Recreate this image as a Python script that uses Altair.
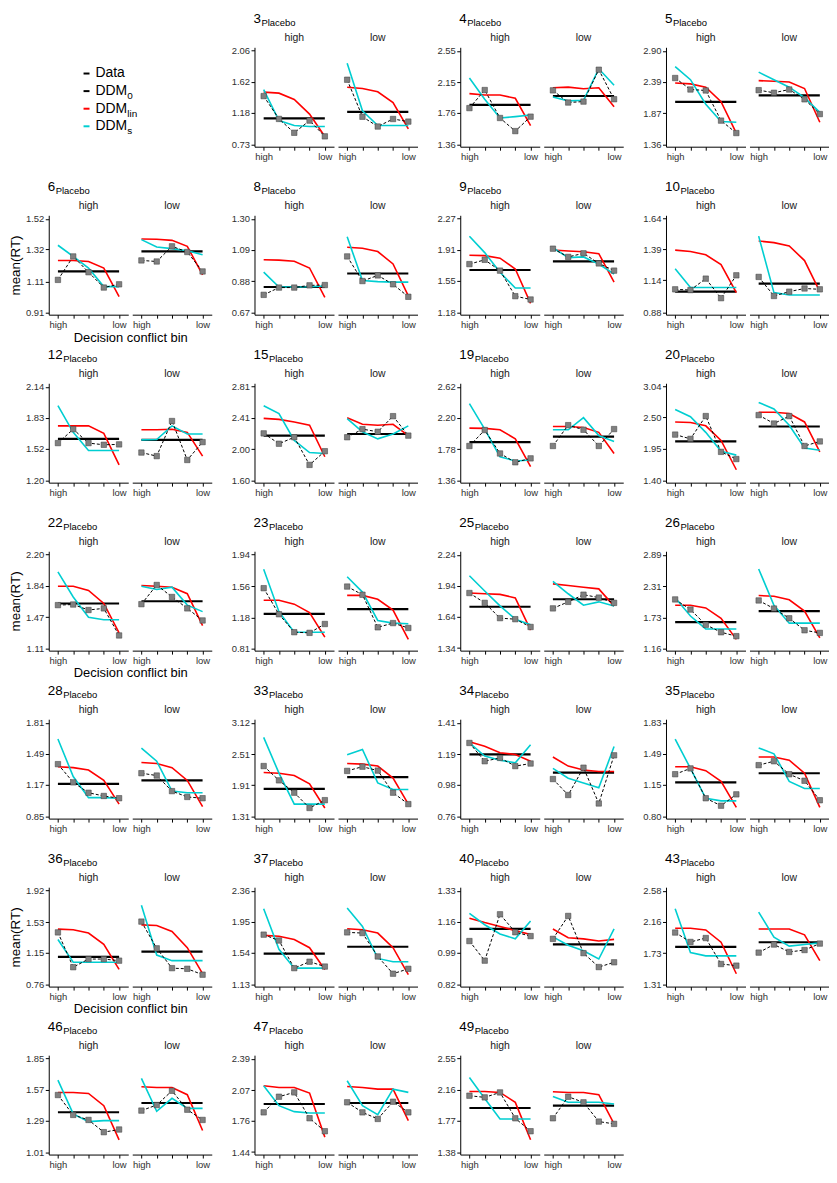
import altair as alt
import pandas as pd

# ---------------- data ----------------
SUBJECTS = [3, 4, 5, 6, 8, 9, 10, 12, 15, 19, 20, 22, 23, 25, 26, 28, 33, 34, 35, 36, 37, 40, 43, 46, 47, 49]
CONDITIONS = ["high", "low"]
BINS = [1, 2, 3, 4, 5]
BIN_LABELS = ["high", "low"]

Y_TICKS = [
    [0.73, 1.18, 1.62, 2.06], [1.36, 1.76, 2.15, 2.55], [1.36, 1.87, 2.39, 2.90],
    [0.91, 1.11, 1.32, 1.52], [0.67, 0.88, 1.09, 1.30], [1.18, 1.55, 1.91, 2.27], [0.88, 1.14, 1.39, 1.64],
    [1.20, 1.52, 1.83, 2.14], [1.60, 2.00, 2.41, 2.81], [1.36, 1.78, 2.20, 2.62], [1.40, 1.95, 2.50, 3.04],
    [1.11, 1.47, 1.84, 2.20], [0.81, 1.18, 1.56, 1.94], [1.34, 1.64, 1.94, 2.24], [1.16, 1.73, 2.31, 2.89],
    [0.85, 1.17, 1.49, 1.81], [1.31, 1.91, 2.51, 3.12], [0.76, 0.98, 1.19, 1.41], [0.80, 1.15, 1.49, 1.83],
    [0.76, 1.15, 1.53, 1.92], [1.13, 1.54, 1.95, 2.36], [0.82, 0.99, 1.16, 1.33], [1.31, 1.73, 2.16, 2.58],
    [1.01, 1.29, 1.57, 1.85], [1.44, 1.76, 2.07, 2.39], [1.38, 1.77, 2.16, 2.55],
]

DATA_HIGH = [
    [1.415, 1.09, 0.893, 1.066, 0.842], [1.82, 2.05, 1.694, 1.527, 1.711], [2.451, 2.262, 2.246, 1.749, 1.544],
    [1.121, 1.274, 1.171, 1.071, 1.092], [0.787, 0.836, 0.836, 0.851, 0.853], [1.741, 1.791, 1.665, 1.367, 1.328],
    [1.066, 1.06, 1.153, 0.994, 1.18], [1.573, 1.713, 1.573, 1.556, 1.56], [2.206, 2.072, 2.156, 1.798, 1.975],
    [1.821, 2.036, 1.72, 1.601, 1.654], [2.20, 2.125, 2.525, 1.897, 1.771], [1.612, 1.619, 1.555, 1.574, 1.258],
    [1.535, 1.22, 1.003, 0.995, 1.102], [1.871, 1.776, 1.629, 1.619, 1.544], [2.062, 1.875, 1.593, 1.454, 1.382],
    [1.384, 1.197, 1.09, 1.057, 1.034], [2.28, 2.003, 1.764, 1.468, 1.619], [1.269, 1.142, 1.165, 1.108, 1.126],
    [1.262, 1.326, 0.997, 0.915, 1.04], [1.402, 0.97, 1.071, 1.071, 1.051], [1.781, 1.704, 1.34, 1.425, 1.361],
    [1.055, 0.948, 1.201, 1.103, 1.082], [2.011, 1.883, 1.936, 1.583, 1.561], [1.523, 1.344, 1.299, 1.189, 1.213],
    [1.844, 2.003, 2.047, 1.784, 1.652], [2.086, 2.065, 2.127, 1.803, 1.641],
]
DATA_LOW = [
    [1.648, 1.121, 0.982, 1.089, 1.052], [2.046, 1.891, 1.903, 2.309, 1.933], [2.251, 2.208, 2.262, 2.10, 1.857],
    [1.248, 1.241, 1.34, 1.303, 1.176], [1.046, 0.88, 0.918, 0.858, 0.774], [1.921, 1.825, 1.867, 1.749, 1.665],
    [1.167, 1.012, 1.047, 1.073, 1.066], [1.478, 1.442, 1.795, 1.403, 1.583], [2.156, 2.261, 2.227, 2.429, 2.177],
    [1.821, 2.102, 2.040, 1.821, 2.049], [2.542, 2.394, 2.525, 2.00, 2.08], [1.623, 1.847, 1.707, 1.574, 1.433],
    [1.555, 1.456, 1.062, 1.113, 1.054], [1.723, 1.786, 1.855, 1.827, 1.776], [2.043, 1.893, 1.713, 1.491, 1.442],
    [1.291, 1.267, 1.107, 1.047, 1.034], [2.186, 2.268, 2.192, 1.764, 1.543], [1.018, 0.907, 1.097, 0.848, 1.183],
    [1.362, 1.405, 1.262, 1.19, 0.975], [1.536, 1.204, 0.958, 0.95, 0.877], [1.811, 1.802, 1.494, 1.267, 1.331],
    [1.067, 1.192, 0.989, 0.913, 0.939], [1.738, 1.848, 1.747, 1.773, 1.861], [1.383, 1.433, 1.561, 1.391, 1.299],
    [1.946, 1.844, 1.777, 1.952, 1.844], [1.803, 2.073, 2.003, 1.762, 1.733],
]

DDM0_HIGH = [1.098, 1.862, 2.057, 1.176, 0.84, 1.672, 1.047, 1.615, 2.177, 1.874, 2.08, 1.631, 1.224,
             1.739, 1.641, 1.181, 1.839, 1.189, 1.172, 1.099, 1.532, 1.121, 1.817, 1.368, 1.929, 1.932]
DDM0_LOW = [1.191, 1.974, 2.165, 1.307, 0.931, 1.772, 1.113, 1.605, 2.198, 1.948, 2.342, 1.657, 1.283,
            1.811, 1.845, 1.217, 2.066, 1.063, 1.273, 1.164, 1.622, 1.037, 1.879, 1.451, 1.939, 1.961]

LIN_HIGH = [
    [1.471, 1.457, 1.368, 1.159, 0.84], [2.004, 1.987, 1.987, 1.945, 1.598], [2.37, 2.354, 2.30, 2.062, 1.544],
    [1.248, 1.248, 1.241, 1.198, 1.011], [1.024, 1.021, 1.013, 0.968, 0.77], [1.844, 1.84, 1.81, 1.684, 1.283],
    [1.385, 1.374, 1.347, 1.268, 1.039], [1.746, 1.746, 1.746, 1.671, 1.354], [2.40, 2.387, 2.354, 2.311, 1.903],
    [2.062, 2.058, 2.040, 1.918, 1.544], [2.422, 2.411, 2.354, 2.097, 1.583], [1.832, 1.832, 1.783, 1.631, 1.289],
    [1.389, 1.389, 1.342, 1.239, 0.944], [1.871, 1.864, 1.858, 1.824, 1.513], [1.953, 1.953, 1.905, 1.713, 1.322],
    [1.358, 1.348, 1.324, 1.217, 0.974], [2.154, 2.142, 2.098, 1.934, 1.468], [1.278, 1.246, 1.201, 1.189, 1.142],
    [1.344, 1.344, 1.301, 1.183, 0.897], [1.443, 1.435, 1.394, 1.253, 0.942], [1.772, 1.759, 1.716, 1.609, 1.323],
    [1.18, 1.156, 1.135, 1.112, 1.091], [2.069, 2.069, 2.046, 1.879, 1.451], [1.546, 1.546, 1.537, 1.427, 1.12],
    [2.114, 2.097, 2.097, 2.04, 1.592], [2.139, 2.139, 2.127, 2.003, 1.534],
]
LIN_LOW = [
    [1.541, 1.522, 1.476, 1.322, 0.949], [2.079, 2.087, 2.066, 2.079, 1.837], [2.408, 2.397, 2.386, 2.278, 1.722],
    [1.388, 1.386, 1.379, 1.34, 1.154], [1.108, 1.101, 1.079, 0.995, 0.78], [1.905, 1.894, 1.886, 1.863, 1.531],
    [1.459, 1.446, 1.419, 1.30, 1.047], [1.707, 1.707, 1.713, 1.681, 1.442], [2.408, 2.324, 2.311, 2.324, 2.177],
    [2.084, 2.084, 2.071, 2.005, 1.72], [2.593, 2.593, 2.571, 2.422, 1.897], [1.84, 1.832, 1.821, 1.745, 1.372],
    [1.448, 1.448, 1.401, 1.271, 0.916], [1.959, 1.943, 1.927, 1.911, 1.745], [2.134, 2.122, 2.055, 1.845, 1.352],
    [1.401, 1.391, 1.348, 1.217, 0.947], [2.331, 2.318, 2.28, 2.047, 1.543], [1.171, 1.108, 1.081, 1.07, 1.07],
    [1.452, 1.452, 1.416, 1.273, 0.897], [1.495, 1.487, 1.414, 1.212, 0.889], [1.858, 1.845, 1.802, 1.609, 1.254],
    [1.121, 1.073, 1.067, 1.055, 1.064], [2.06, 2.06, 2.06, 1.98, 1.628], [1.597, 1.591, 1.591, 1.526, 1.204],
    [2.107, 2.097, 2.08, 2.08, 1.76], [2.135, 2.127, 2.127, 2.098, 1.733],
]

S_HIGH = [
    [1.508, 1.066, 0.996, 0.982, 0.982], [2.204, 1.933, 1.694, 1.711, 1.732], [2.64, 2.424, 2.019, 1.733, 1.722],
    [1.347, 1.274, 1.198, 1.077, 1.077], [0.94, 0.84, 0.84, 0.842, 0.847], [2.066, 1.875, 1.646, 1.462, 1.462],
    [1.233, 1.081, 1.081, 1.081, 1.081], [1.949, 1.681, 1.498, 1.498, 1.498], [2.564, 2.463, 2.114, 1.958, 1.945],
    [2.392, 2.049, 1.676, 1.619, 1.632], [2.639, 2.513, 2.239, 1.908, 1.84], [1.999, 1.707, 1.471, 1.441, 1.441],
    [1.763, 1.251, 1.003, 1.003, 1.003], [2.037, 1.89, 1.748, 1.619, 1.566], [2.092, 1.755, 1.515, 1.515, 1.515],
    [1.642, 1.257, 1.04, 1.04, 1.034], [2.835, 2.142, 1.543, 1.543, 1.543], [1.269, 1.178, 1.149, 1.131, 1.257],
    [1.648, 1.326, 0.997, 0.968, 0.968], [1.313, 1.031, 1.031, 1.031, 1.031], [2.123, 1.588, 1.34, 1.34, 1.34],
    [1.206, 1.144, 1.094, 1.067, 1.165], [2.333, 1.738, 1.694, 1.694, 1.694], [1.657, 1.353, 1.284, 1.293, 1.293],
    [2.114, 1.912, 1.851, 1.838, 1.838], [2.314, 2.052, 1.795, 1.795, 1.795],
]
S_LOW = [
    [1.881, 1.205, 0.996, 0.996, 0.996], [1.962, 1.912, 1.92, 2.321, 2.112], [2.548, 2.424, 2.30, 2.127, 1.884],
    [1.384, 1.336, 1.325, 1.311, 1.285], [1.178, 0.884, 0.876, 0.873, 0.873], [1.932, 1.817, 1.825, 1.741, 1.626],
    [1.499, 1.039, 1.02, 1.02, 1.02], [1.605, 1.609, 1.746, 1.664, 1.664], [2.396, 2.227, 2.135, 2.198, 2.303],
    [2.040, 2.040, 2.203, 1.961, 1.882], [2.765, 2.65, 2.365, 1.965, 1.925], [1.832, 1.794, 1.821, 1.612, 1.536],
    [1.673, 1.488, 1.145, 1.113, 1.105], [1.984, 1.864, 1.754, 1.786, 1.745], [2.626, 1.953, 1.623, 1.623, 1.623],
    [1.548, 1.414, 1.107, 1.09, 1.09], [2.501, 2.602, 1.953, 1.827, 1.827], [1.092, 1.024, 0.991, 0.957, 1.244],
    [1.552, 1.487, 1.183, 1.104, 1.104], [1.738, 1.12, 1.051, 1.051, 1.051], [2.132, 1.888, 1.468, 1.425, 1.425],
    [1.078, 1.032, 1.002, 0.957, 1.121], [2.289, 1.949, 1.826, 1.848, 1.87], [1.672, 1.377, 1.493, 1.403, 1.403],
    [2.165, 1.912, 1.821, 2.08, 2.047], [2.077, 2.003, 2.003, 2.003, 1.982],
]

GRID = [[None, 3, 4, 5], [6, 8, 9, 10], [12, 15, 19, 20], [22, 23, 25, 26],
        [28, 33, 34, 35], [36, 37, 40, 43], [46, 47, 49]]

LEGEND_MAIN = ["Data", "DDM", "DDM", "DDM"]
LEGEND_SUB = ["", "0", "lin", "s"]
LEGEND_COLORS = ["black", "black", "#FF0000", "#00CED1"]

# ---------------- styling / layout ----------------
FONT = "Liberation Sans"
RED = "#FF0000"
CYAN = "#00CED1"
PW, PH = 80, 100          # panel plot area
GAP = 4                   # between panels (and around spacer)
SPACER = 35               # extra room between subject cells
ROW_GAP = 69
PAD_TOP, PAD_BOT = 3.5, 2.5
SPAN = PH - PAD_TOP - PAD_BOT

X_LABEL_EXPR = ("datum.value == 1 ? '%s' : (datum.value == 5 ? '%s' : '')"
                % (BIN_LABELS[0], BIN_LABELS[1]))


def panel(i, cond, row_idx, first_col):
    subj = SUBJECTS[i]
    t = Y_TICKS[i]
    rng = t[3] - t[0]
    lo = t[0] - PAD_BOT / SPAN * rng
    hi = t[3] + PAD_TOP / SPAN * rng
    is_high = cond == "high"
    series = {
        "DDM0": [(DDM0_HIGH if is_high else DDM0_LOW)[i]] * len(BINS),
        "DDMlin": (LIN_HIGH if is_high else LIN_LOW)[i],
        "DDMs": (S_HIGH if is_high else S_LOW)[i],
        "Data": (DATA_HIGH if is_high else DATA_LOW)[i],
    }
    recs = [{"bin": b, "series": k, "rt": v[j]}
            for k, v in series.items() for j, b in enumerate(BINS)]
    df = pd.DataFrame(recs)

    show_titles = first_col and is_high and (row_idx % 2 == 1)

    xaxis_kw = dict(values=BINS, labelExpr=X_LABEL_EXPR, labelAngle=0, labelFontSize=9.5,
                    labelPadding=1.5, tickSize=3.5, labelOverlap=False, labelFlush=False,
                    labelColor="#303030", domainColor="black", tickColor="black")
    if show_titles:
        xaxis_kw.update(title="Decision conflict bin", titleX=PW + GAP / 2, titleAlign="center",
                        titleFontSize=13, titleFontWeight="normal", titlePadding=2,
                        titleColor="black", titleFont=FONT)
    else:
        xaxis_kw.update(title=None)
    X = alt.X("bin:Q", scale=alt.Scale(domain=[0.4, 5.6], nice=False, zero=False),
              axis=alt.Axis(**xaxis_kw))

    if is_high:
        yaxis_kw = dict(values=t, format=".2f", labelFontSize=9.5, labelPadding=1.5, tickSize=3.5,
                        labelColor="#303030", domainColor="black", tickColor="black",
                        labelOverlap=False, labelFlush=False)
        if show_titles:
            yaxis_kw.update(title="mean(RT)", titleFontSize=13.5, titleFontWeight="normal",
                            titlePadding=3, titleColor="black", titleFont=FONT)
        else:
            yaxis_kw.update(title=None)
        Y = alt.Y("rt:Q", scale=alt.Scale(domain=[lo, hi], nice=False, zero=False),
                  axis=alt.Axis(**yaxis_kw))
    else:
        Y = alt.Y("rt:Q", scale=alt.Scale(domain=[lo, hi], nice=False, zero=False), axis=None)

    base = alt.Chart(df).encode(x=X, y=Y)
    layers = [
        base.transform_filter(alt.datum.series == "DDM0").mark_line(color="black", strokeWidth=2.2),
        base.transform_filter(alt.datum.series == "DDMlin").mark_line(color=RED, strokeWidth=1.6),
        base.transform_filter(alt.datum.series == "DDMs").mark_line(color=CYAN, strokeWidth=1.6),
        base.transform_filter(alt.datum.series == "Data").mark_line(color="black", strokeWidth=1,
                                                                     strokeDash=[3, 2]),
        base.transform_filter(alt.datum.series == "Data").mark_square(
            size=30, filled=True, fill="#808080", stroke="#3a3a3a", strokeWidth=0.5, opacity=1),
    ]
    strip = alt.Chart(pd.DataFrame({"lab": [cond]})).mark_text(
        font=FONT, fontSize=10.5, align="center", baseline="alphabetic", color="#1a1a1a"
    ).encode(x=alt.value(PW / 2), y=alt.value(-6), text="lab:N")
    layers.append(strip)
    if is_high:
        num = str(subj)
        main = alt.Chart(pd.DataFrame({"lab": [num]})).mark_text(
            font=FONT, fontSize=13.5, align="left", baseline="alphabetic", color="black"
        ).encode(x=alt.value(-1), y=alt.value(-24.5), text="lab:N")
        sub = alt.Chart(pd.DataFrame({"lab": ["Placebo"]})).mark_text(
            font=FONT, fontSize=9.5, align="left", baseline="alphabetic", color="black"
        ).encode(x=alt.value(-1 + 7.5 * len(num) + 0.5), y=alt.value(-21.5), text="lab:N")
        layers += [main, sub]
    return alt.layer(*layers).properties(width=PW, height=PH)


def spacer(w):
    return alt.Chart(pd.DataFrame({"a": [0]})).mark_point(opacity=0).encode(
        x=alt.value(0), y=alt.value(0)).properties(width=w, height=PH)


def legend_chart():
    leg = pd.DataFrame({"k": [0, 1, 2, 3], "main": LEGEND_MAIN, "sub": LEGEND_SUB,
                        "col": LEGEND_COLORS})
    ly = alt.Y("k:Q", scale=alt.Scale(domain=[-1.49, 4.16], reverse=True, nice=False, zero=False),
               axis=None)
    rule = alt.Chart(leg).mark_rule(strokeWidth=2).encode(
        x=alt.value(35), x2=alt.value(41), y=ly, color=alt.Color("col:N", scale=None))
    txt = alt.Chart(leg).mark_text(font=FONT, fontSize=14, align="left", baseline="middle",
                                   color="black").encode(x=alt.value(47), y=ly, text="main:N")
    sub = alt.Chart(leg).mark_text(font=FONT, fontSize=10, align="left", baseline="middle",
                                   dy=5, color="black").encode(x=alt.value(47 + 32), y=ly, text="sub:N")
    return alt.layer(rule, txt, sub).properties(width=PW, height=PH)


items = []
for r, row in enumerate(GRID):
    for c, subj in enumerate(row):
        if c > 0:
            items.append(spacer(SPACER))
        if subj is None:
            items.append(legend_chart())
            items.append(spacer(PW))
        else:
            i = SUBJECTS.index(subj)
            items.append(panel(i, "high", r, c == 0))
            items.append(panel(i, "low", r, c == 0))

chart = alt.concat(*items, columns=11, spacing={"row": ROW_GAP, "column": GAP},
                   bounds="flush").properties(padding=0)
chart = chart.configure_view(strokeWidth=0).configure_axis(grid=False, labelFont=FONT, titleFont=FONT)

chart.save("out.html", embed_options={"renderer": "svg", "actions": False})
